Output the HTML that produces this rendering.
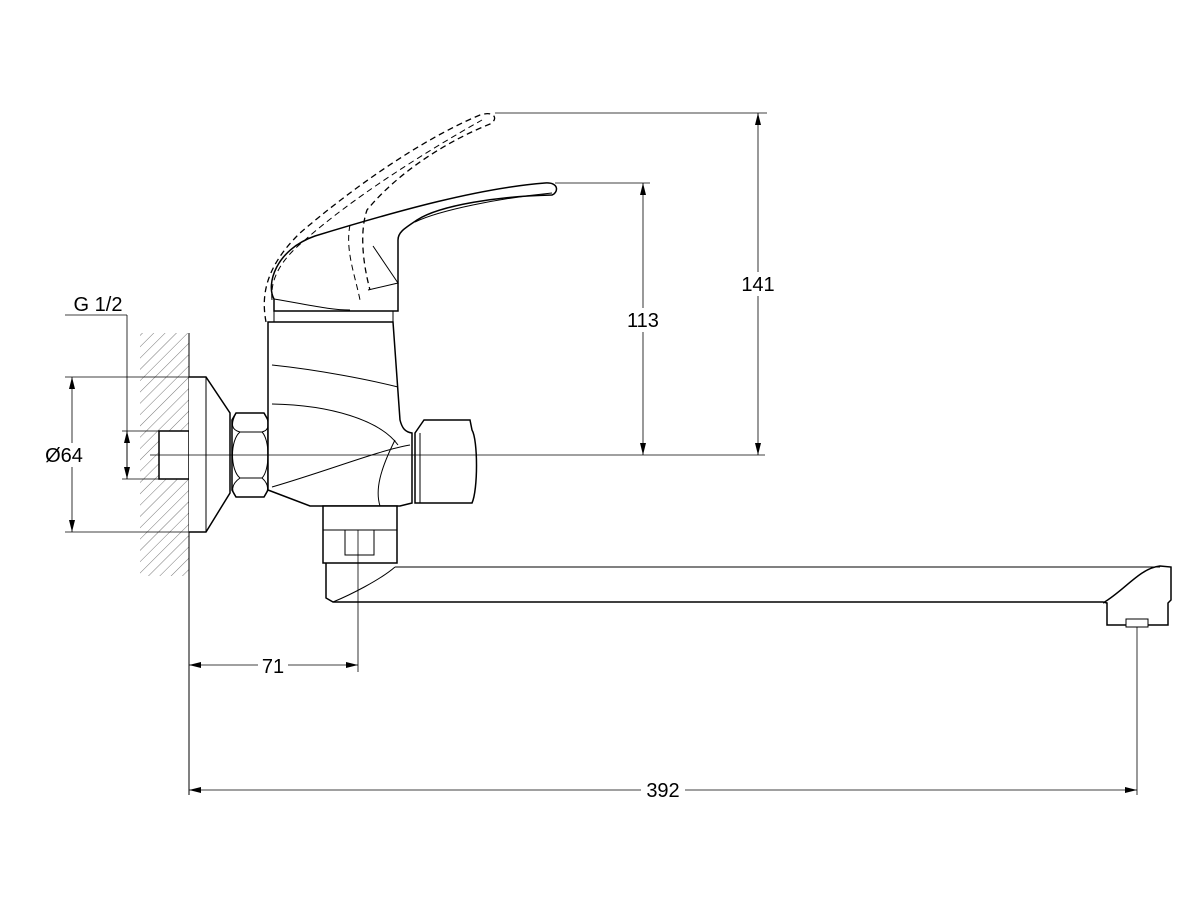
<!DOCTYPE html>
<html><head><meta charset="utf-8"><style>body{margin:0;background:#fff}svg{display:block}text{font-family:"Liberation Sans",sans-serif;font-size:20px;fill:#000}</style></head><body>
<svg width="1200" height="900" viewBox="0 0 1200 900" xmlns="http://www.w3.org/2000/svg">
<defs>
<pattern id="h" width="8" height="8" patternUnits="userSpaceOnUse" patternTransform="rotate(45)"><line x1="0" y1="0" x2="0" y2="8" stroke="#555" stroke-width="0.8"/></pattern>
<marker id="a" markerWidth="12" markerHeight="6" refX="12" refY="3" orient="auto-start-reverse" markerUnits="userSpaceOnUse"><path d="M0,0 L12,3 L0,6z" fill="#000"/></marker>
</defs>
<g fill="none" stroke="#000" stroke-width="1">
<rect x="140" y="333" width="49" height="243" fill="url(#h)" stroke="none"/>
<line x1="189" y1="333" x2="189" y2="795"/>
<rect x="159" y="431" width="30" height="48" fill="#fff" stroke-width="1.5"/>
<path d="M189,377 H206 L230,413 V493 L206,532 H189" stroke-width="1.5" fill="#fff"/>
<line x1="206" y1="377" x2="206" y2="532"/>
<path d="M236,413 H264 L268,420 V490 L264,497 H236 L232,490 V420 Z" stroke-width="1.5" fill="#fff"/>
<path d="M236,413 C230,425 232,430 240,432 H262 C270,430 270,422 264,413 M240,432 C230,440 230,470 240,478 H262 C270,470 270,440 262,432 M240,478 C230,485 232,492 236,497 M262,478 C270,485 268,492 264,497"/>
<path d="M268,490 V322 H393 L400,420 C402,428 405,432 412,433 V503 L400,506 H310 L268,490" stroke-width="1.5" fill="#fff"/>
<path d="M274,322 V311 H393 V322"/>
<path d="M272,365 C320,370 370,380 398,387 M272,404 C330,405 380,420 398,445 M272,487 C330,470 380,450 410,445 M395,440 C380,470 375,490 380,506"/>
<path d="M415,433 L424,420 H470 L472,430 C478,440 478,490 472,503 H415 Z" stroke-width="1.5" fill="#fff"/>
<line x1="420" y1="433" x2="420" y2="503"/>
<rect x="323" y="506" width="74" height="57" stroke-width="1.5" fill="#fff"/>
<line x1="323" y1="530" x2="397" y2="530"/>
<rect x="345" y="530" width="29" height="25"/>
<path d="M326,563 V598 L333,602 H1103 L1107,603 V625 H1168 V603 L1171,600 V567 L1160,566 C1140,568 1125,590 1103,603" stroke-width="1.5"/>
<path d="M395,567 H1160"/>
<path d="M395,567 C380,580 350,595 333,602" />
<rect x="1126" y="619" width="22" height="8" fill="#fff"/>
<path d="M266,322 C262,300 262,270 300,233 C350,190 420,140 480,115 C496,110 498,120 490,124 C450,140 400,170 367,210 C360,230 362,260 370,290" stroke-dasharray="6,4" stroke-width="1.3"/>
<path d="M272,300 C270,280 280,260 305,240 C350,200 420,155 482,120" stroke-dasharray="6,4"/>
<path d="M350,225 C345,250 355,275 360,300" stroke-dasharray="6,4"/>
<path d="M274,299 C266,285 275,250 315,236 C400,210 480,188 545,183 C560,182 558,193 552,195 C500,196 440,205 417,220 C405,228 398,232 398,240 V311 H274 Z" stroke-width="1.5" fill="none"/>
<path d="M274,299 C310,305 330,310 350,310 M373,246 L398,283 L368,290 M415,222 C440,210 500,198 552,193"/>
<line x1="150" y1="455" x2="765" y2="455" stroke-width="0.8"/>
<g stroke-width="0.8">
<line x1="495" y1="113" x2="767" y2="113"/><line x1="555" y1="183" x2="650" y2="183"/>
<line x1="758" y1="113" x2="758" y2="455" marker-start="url(#a)" marker-end="url(#a)"/>
<line x1="643" y1="183" x2="643" y2="455" marker-start="url(#a)" marker-end="url(#a)"/>
<line x1="65" y1="377" x2="206" y2="377"/><line x1="65" y1="532" x2="206" y2="532"/>
<line x1="72" y1="377" x2="72" y2="532" marker-start="url(#a)" marker-end="url(#a)"/>
<line x1="65" y1="315" x2="127" y2="315"/><line x1="127" y1="315" x2="127" y2="479"/>
<line x1="122" y1="431" x2="159" y2="431"/><line x1="122" y1="479" x2="159" y2="479"/>
<line x1="127" y1="431" x2="127" y2="479" marker-start="url(#a)" marker-end="url(#a)"/>
<line x1="358" y1="530" x2="358" y2="672"/>
<line x1="189" y1="665" x2="358" y2="665" marker-start="url(#a)" marker-end="url(#a)"/>
<line x1="1137" y1="627" x2="1137" y2="795"/>
<line x1="189" y1="790" x2="1137" y2="790" marker-start="url(#a)" marker-end="url(#a)"/>
</g>
</g>
<rect x="737" y="272" width="42" height="24" fill="#fff"/><text x="758" y="291" text-anchor="middle">141</text>
<rect x="622" y="308" width="42" height="24" fill="#fff"/><text x="643" y="327" text-anchor="middle">113</text>
<rect x="40" y="443" width="52" height="24" fill="#fff"/><text x="64" y="462" text-anchor="middle">Ø64</text>
<text x="98" y="311" text-anchor="middle">G 1/2</text>
<rect x="258" y="654" width="30" height="24" fill="#fff"/><text x="273" y="673" text-anchor="middle">71</text>
<rect x="641" y="778" width="44" height="24" fill="#fff"/><text x="663" y="797" text-anchor="middle">392</text>
</svg>
</body></html>
